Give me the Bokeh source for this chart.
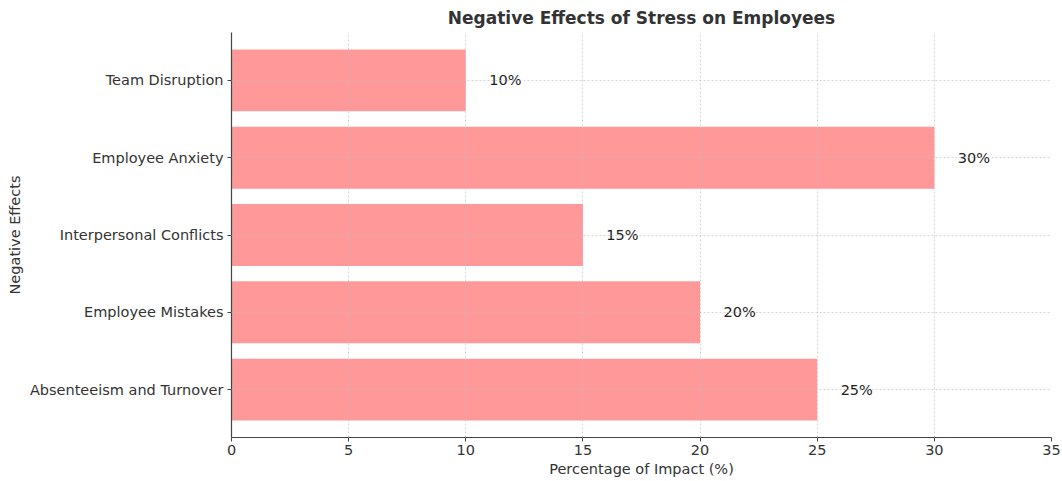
from bokeh.plotting import figure
from bokeh.models import ColumnDataSource, Title, FixedTicker, Range1d
from bokeh.embed import file_html
from bokeh.resources import INLINE
from bokeh.core.properties import value

categories = ["Absenteeism and Turnover", "Employee Mistakes", "Interpersonal Conflicts",
              "Employee Anxiety", "Team Disruption"]
values = [25, 20, 15, 30, 10]
x_ticks = [0, 5, 10, 15, 20, 25, 30, 35]

pos = list(range(len(categories)))
labels = [f"{v}%" for v in values]
src = ColumnDataSource(dict(y=pos, v=values, lx=[v + 1 for v in values], lab=labels))

FONT = "DejaVu Sans"
FS = "14.5px"

p = figure(width=1062, height=481, output_backend="svg", toolbar_location=None,
           x_range=Range1d(0, 35), y_range=Range1d(-0.62, 4.62),
           min_border_left=231, min_border_right=11, min_border_top=32, min_border_bottom=44)
p.title = None
p.add_layout(Title(text="Negative Effects of Stress on Employees", align="center",
                   text_font=FONT, text_font_size="17px", text_font_style="bold",
                   text_color="#333333", offset=0), "above")

p.hbar(y="y", right="v", left=0, height=0.8, source=src, color="#ff9999", line_color=None)
p.text(x="lx", y="y", text="lab", source=src, text_font=value(FONT), text_font_size=FS,
       text_baseline="middle", text_align="left", text_color="#222222")

p.outline_line_color = None
for g in (p.xgrid, p.ygrid):
    g.grid_line_color = "#bbbbbb"
    g.grid_line_dash = "2 2"
    g.grid_line_width = 1
    g.grid_line_alpha = 0.6
    g.level = "guide"

p.xaxis.ticker = FixedTicker(ticks=x_ticks)
p.yaxis.ticker = FixedTicker(ticks=pos)
p.ygrid.ticker = FixedTicker(ticks=pos)
p.yaxis.major_label_overrides = {i: c for i, c in enumerate(categories)}

for ax in (p.xaxis[0], p.yaxis[0]):
    ax.axis_line_color = "#444444"
    ax.axis_line_width = 1.2
    ax.major_tick_line_color = "#444444"
    ax.major_tick_in = 0
    ax.major_tick_out = 4
    ax.minor_tick_line_color = None
    ax.major_label_text_font = FONT
    ax.major_label_text_font_size = FS
    ax.major_label_text_color = "#333333"
    ax.axis_label_text_font = FONT
    ax.axis_label_text_font_size = FS
    ax.axis_label_text_font_style = "normal"
    ax.axis_label_text_color = "#333333"

p.xaxis.axis_label = "Percentage of Impact (%)"
p.yaxis.axis_label = "Negative Effects"
p.xaxis.major_label_standoff = 3
p.xaxis.axis_label_standoff = 3
p.yaxis.major_label_standoff = 4
p.yaxis.axis_label_standoff = 4

open("out.html", "w").write(file_html(p, INLINE))
